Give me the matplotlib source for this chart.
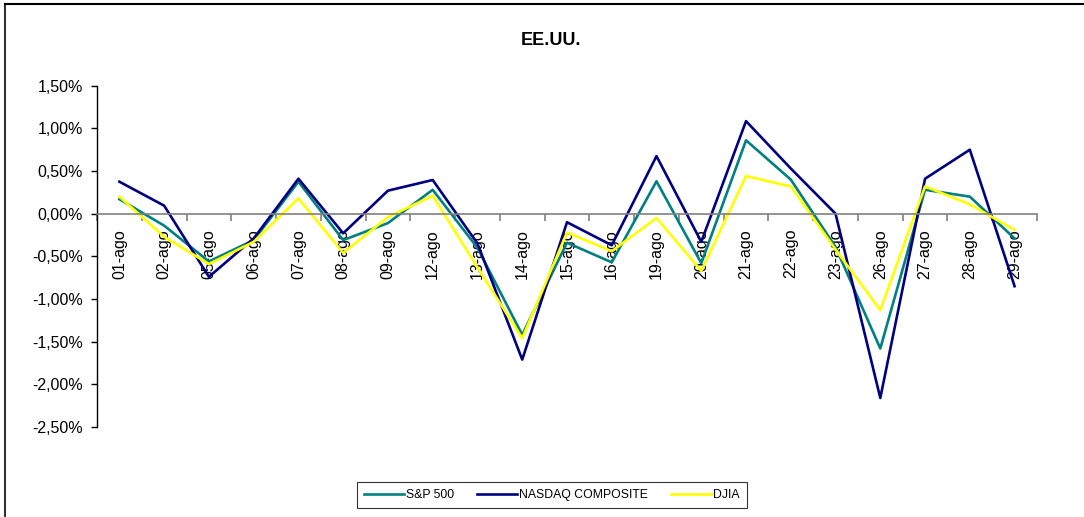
import matplotlib
matplotlib.use("Agg")
import matplotlib.pyplot as plt
from matplotlib.lines import Line2D
from matplotlib.ticker import FixedLocator, FuncFormatter

plt.rcParams["font.family"] = ["Liberation Sans", "DejaVu Sans"]

# ── Datos (variación diaria, %) ─────────────────────────
dias = ["01-ago", "02-ago", "05-ago", "06-ago", "07-ago", "08-ago", "09-ago",
        "12-ago", "13-ago", "14-ago", "15-ago", "16-ago", "19-ago", "20-ago",
        "21-ago", "22-ago", "23-ago", "26-ago", "27-ago", "28-ago", "29-ago"]

sp500 = [0.17, -0.14, -0.56, -0.31, 0.375, -0.31, -0.11,
         0.28, -0.40, -1.42, -0.34, -0.57, 0.38, -0.58,
         0.86, 0.40, -0.39, -1.58, 0.28, 0.20, -0.29]

nasdaq = [0.375, 0.094, -0.74, -0.29, 0.41, -0.23, 0.27,
          0.395, -0.35, -1.71, -0.10, -0.37, 0.675, -0.33,
          1.085, 0.53, 0.0, -2.16, 0.41, 0.75, -0.85]

djia = [0.20, -0.27, -0.59, -0.33, 0.18, -0.46, -0.04,
        0.21, -0.63, -1.46, -0.22, -0.44, -0.05, -0.67,
        0.44, 0.32, -0.42, -1.13, 0.32, 0.11, -0.19]

y_ticks = [-2.5, -2.0, -1.5, -1.0, -0.5, 0.0, 0.5, 1.0, 1.5]

# ── Figura ──────────────────────────────────────────────
fig = plt.figure(figsize=(10.84, 5.17), dpi=100, facecolor="white")
ax = fig.add_axes([0.0895, 0.1741, 0.8671, 0.6601])

x = list(range(len(dias)))
ax.plot(x, sp500, color="#008080", linewidth=1.9, label="S&P 500")
ax.plot(x, nasdaq, color="#000080", linewidth=1.9, label="NASDAQ COMPOSITE")
ax.plot(x, djia, color="#FFFF00", linewidth=1.9, label="DJIA")

ax.set_xlim(-0.5, len(dias) - 0.5)
ax.set_ylim(-2.5, 1.5)

# eje Y
ax.set_yticks(y_ticks)
ax.yaxis.set_major_formatter(FuncFormatter(lambda v, p: f"{v:.2f}%".replace(".", ",")))
ax.tick_params(axis="y", direction="out", length=4, width=1, labelsize=11.5, pad=6)

# eje X en el cero, marcas entre categorías
ax.spines["bottom"].set_position(("data", 0))
ax.spines["bottom"].set_color("#808080")
ax.spines["bottom"].set_linewidth(1.2)
ax.spines["top"].set_visible(False)
ax.spines["right"].set_visible(False)
ax.spines["left"].set_linewidth(1.0)

ax.xaxis.set_major_locator(FixedLocator([i - 0.5 for i in range(len(dias) + 1)]))
ax.xaxis.set_major_formatter(FuncFormatter(lambda v, p: ""))
ax.xaxis.set_minor_locator(FixedLocator(x))
ax.set_xticklabels(dias, minor=True, rotation=90, fontsize=11.5)
ax.tick_params(axis="x", which="major", direction="out", length=5, color="#808080", width=1.2)
ax.tick_params(axis="x", which="minor", length=0, pad=11)

fig.text(0.508, 0.921, "EE.UU.", ha="center", va="center", fontsize=13, fontweight="bold")

leg = fig.legend(loc="center", bbox_to_anchor=(0.509, 0.0426), ncol=3,
                 fontsize=8.8, frameon=True, fancybox=False, edgecolor="black",
                 handlelength=3.3, handletextpad=0.15, columnspacing=1.9,
                 borderpad=0.55, borderaxespad=0)
leg.get_frame().set_linewidth(0.8)

# borde del área del gráfico (recortado)
fig.add_artist(Line2D([0.005, 0.005], [0.0, 0.993], color="#333333", linewidth=1.5))
fig.add_artist(Line2D([0.005, 1.0], [0.993, 0.993], color="#000000", linewidth=1.5))

fig.savefig("out.png", dpi=100, facecolor="white")
plt.close(fig)
